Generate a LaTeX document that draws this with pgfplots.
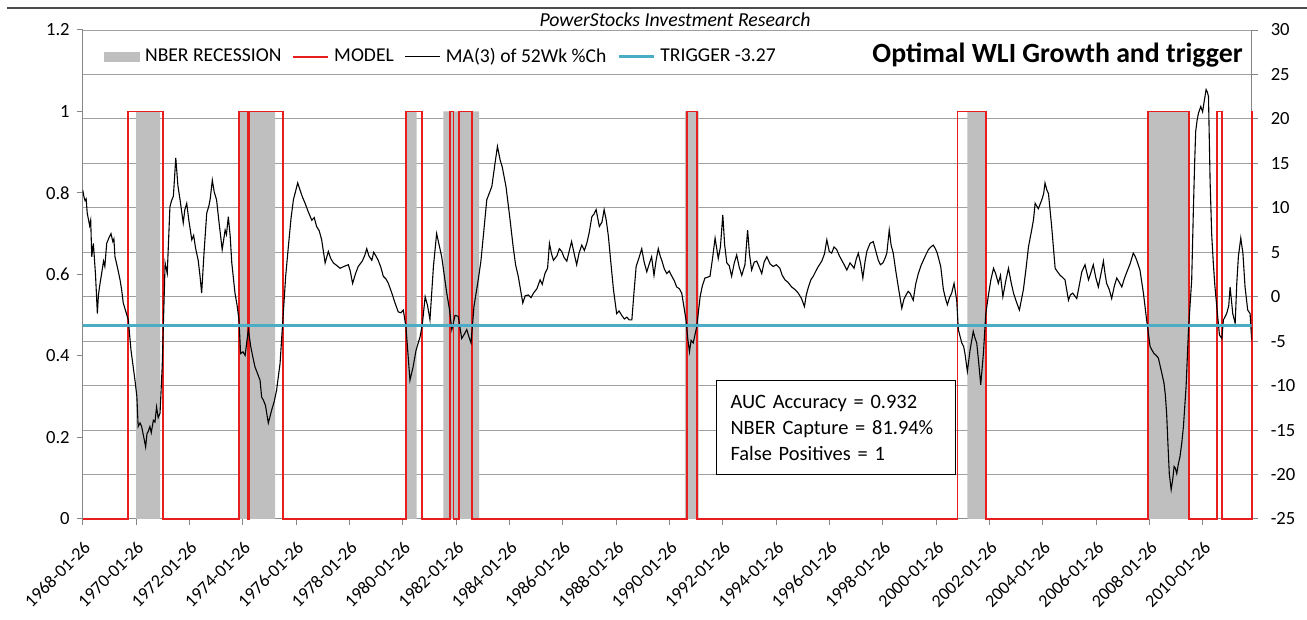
\documentclass[border=0pt]{standalone}
\usepackage{fontspec}
\setmainfont{Carlito}
\usepackage{pgfplots}
\pgfplotsset{compat=1.18}
\definecolor{recgray}{RGB}{191,191,191}
\definecolor{modelred}{RGB}{232,30,30}
\definecolor{trigblue}{RGB}{75,172,198}
\definecolor{gridgray}{RGB}{160,160,160}
\definecolor{axgray}{RGB}{134,134,134}

\pgfplotsset{
  base/.style={
    set layers, scale only axis,
    width=584.5pt, height=244.5pt,
    xmin=1968.07, xmax=2011.9,
    tick align=outside, major tick length=3pt,
    axis line style={-, axgray, line width=0.5pt},
    tick style={axgray, line width=0.5pt},
    tick label style={font=\fontsize{9.3}{11}\selectfont},
  }
}

\begin{document}
\begin{tikzpicture}
% left axis: recessions and model (0/1)
\begin{axis}[base,
  ymin=0, ymax=1.2, clip=false,
  axis x line*=bottom, axis y line*=left,
  ytick={0,0.2,0.4,0.6,0.8,1,1.2},
  yticklabels={0,0.2,0.4,0.6,0.8,1,1.2},
  xtick={1968.07,1970.07,1972.07,1974.07,1976.07,1978.07,1980.07,1982.07,1984.07,1986.07,1988.07,1990.07,1992.07,1994.07,1996.07,1998.07,2000.07,2002.07,2004.07,2006.07,2008.07,2010.07},
  xticklabels={1968-01-26,1970-01-26,1972-01-26,1974-01-26,1976-01-26,1978-01-26,1980-01-26,1982-01-26,1984-01-26,1986-01-26,1988-01-26,1990-01-26,1992-01-26,1994-01-26,1996-01-26,1998-01-26,2000-01-26,2002-01-26,2004-01-26,2006-01-26,2008-01-26,2010-01-26},
  xticklabel style={xshift=3pt, yshift=-9pt, rotate=45, anchor=east, inner sep=1pt, font=\fontsize{9}{11}\selectfont},
]
\coordinate (SW) at (rel axis cs:0,0);
\addplot[fill=recgray, draw=none, const plot] coordinates {
  (1968.07,0) (1970.07,1) (1970.97,0) (1973.93,1) (1975.28,0)
  (1980.19,1) (1980.59,0) (1981.59,1) (1982.93,0) (1990.65,1) (1991.16,0)
  (2001.24,1) (2001.93,0) (2008.00,1) (2009.53,0) (2011.90,0)
} \closedcycle;
\addplot[draw=modelred, line width=0.9pt, const plot] coordinates {
  (1968.07,0) (1969.76,1) (1971.09,0) (1973.94,1) (1974.28,0) (1974.32,1)
  (1975.57,0) (1980.19,1) (1980.80,0) (1981.85,1) (1981.97,0) (1982.19,1)
  (1982.68,0) (1990.72,1) (1991.09,0) (2000.87,1) (2001.93,0) (2008.00,1)
  (2009.56,0) (2010.59,1) (2010.80,0) (2011.90,1)
};
\end{axis}

% right axis: WLI growth and trigger
\begin{axis}[base,
  ymin=-25, ymax=30,
  axis y line*=right, axis x line=none,
  ytick={-25,-20,-15,-10,-5,0,5,10,15,20,25,30},
  yticklabels={-25,-20,-15,-10,-5,0,5,10,15,20,25,30},
  yticklabel style={xshift=3pt},
  ymajorgrids, grid style={gridgray, line width=0.5pt},
  legend columns=4,
  legend image code/.code={\draw[#1] (0pt,0pt) -- (17.5pt,0pt);},
  legend style={at={(0.013,0.945)}, anchor=west, draw=none, fill=none,
    font=\fontsize{9.8}{11}\selectfont,
    nodes={inner xsep=2.5pt},
    /tikz/every even column/.append style={column sep=3pt}},
]
\addlegendimage{legend image code/.code={\fill[recgray] (0pt,-2.25pt) rectangle (17.5pt,2.25pt);}}
\addlegendentry{NBER RECESSION}
\addlegendimage{draw=modelred, line width=0.9pt}
\addlegendentry{MODEL}
\addplot[black, line width=0.55pt] coordinates {
(1968.07,12.0)(1968.12,11.2)(1968.16,10.8)(1968.20,11.0)(1968.24,9.4)(1968.33,8.0)(1968.37,8.6)(1968.41,4.5)(1968.47,6.0)(1968.55,2.5)(1968.62,-1.9)(1968.66,0.2)(1968.72,1.5)(1968.78,2.6)(1968.85,4.0)(1968.90,3.4)(1968.97,6.0)(1969.05,6.6)(1969.13,7.1)(1969.2,6.2)(1969.24,6.5)(1969.28,4.5)(1969.38,3.2)(1969.47,1.9)(1969.53,0.8)(1969.59,-0.7)(1969.70,-1.8)(1969.78,-2.6)(1969.88,-6.0)(1970.03,-9.4)(1970.10,-11.2)(1970.15,-14.6)(1970.22,-14.2)(1970.28,-14.6)(1970.36,-15.8)(1970.43,-16.9)(1970.48,-15.4)(1970.52,-15.2)(1970.59,-14.6)(1970.64,-15.3)(1970.72,-13.9)(1970.78,-14.1)(1970.84,-12.4)(1970.90,-13.6)(1970.97,-13.1)(1971.05,-7.9)(1971.16,3.8)(1971.24,2.6)(1971.34,10.1)(1971.40,10.8)(1971.47,11.3)(1971.56,15.6)(1971.64,12.5)(1971.72,10.9)(1971.78,9.6)(1971.84,8.3)(1971.90,9.8)(1971.97,10.5)(1972.05,8.6)(1972.16,6.4)(1972.23,6.9)(1972.3,5.5)(1972.40,4.1)(1972.47,2.3)(1972.53,0.4)(1972.62,5.0)(1972.72,9.4)(1972.80,10.2)(1972.85,11.0)(1972.93,13.1)(1973.00,11.8)(1973.09,10.9)(1973.18,8.4)(1973.30,5.3)(1973.41,7.5)(1973.46,7.0)(1973.53,9.0)(1973.60,6.8)(1973.66,3.8)(1973.78,0.4)(1973.86,-1.0)(1973.93,-2.6)(1973.99,-6.4)(1974.08,-6.2)(1974.16,-6.6)(1974.28,-3.7)(1974.37,-5.6)(1974.45,-6.8)(1974.53,-7.9)(1974.62,-8.6)(1974.72,-9.4)(1974.78,-11.3)(1974.84,-11.6)(1974.92,-12.2)(1975.03,-14.2)(1975.16,-12.7)(1975.25,-11.8)(1975.34,-10.5)(1975.47,-7.5)(1975.59,-1.9)(1975.68,2.3)(1975.78,5.6)(1975.88,8.8)(1975.97,10.9)(1976.13,12.8)(1976.22,12.0)(1976.31,11.2)(1976.41,10.5)(1976.52,9.6)(1976.66,8.6)(1976.75,8.9)(1976.84,7.9)(1976.94,7.4)(1977.03,6.4)(1977.16,3.8)(1977.28,5.1)(1977.37,4.3)(1977.47,3.8)(1977.60,3.5)(1977.72,3.2)(1977.86,3.4)(1978.03,3.6)(1978.10,2.9)(1978.19,1.5)(1978.30,2.6)(1978.40,3.4)(1978.55,4.0)(1978.64,4.6)(1978.72,5.4)(1978.80,4.6)(1978.91,4.1)(1978.98,5.0)(1979.06,4.6)(1979.15,4.1)(1979.25,3.3)(1979.34,2.3)(1979.44,2.0)(1979.53,1.5)(1979.65,0.5)(1979.78,-0.7)(1979.90,-1.7)(1980.00,-1.8)(1980.09,-1.5)(1980.19,-3.4)(1980.34,-9.4)(1980.45,-8.0)(1980.57,-6.0)(1980.72,-4.5)(1980.80,-3.2)(1980.91,0.0)(1981.00,-1.0)(1981.09,-2.6)(1981.22,3.4)(1981.34,7.1)(1981.45,5.6)(1981.53,4.5)(1981.72,0.4)(1981.82,-1.4)(1981.91,-3.7)(1982.03,-2.1)(1982.15,-2.2)(1982.28,-4.7)(1982.38,-4.2)(1982.47,-3.7)(1982.55,-4.5)(1982.63,-5.2)(1982.74,-1.1)(1982.90,1.9)(1983.00,4.0)(1983.09,6.8)(1983.22,10.9)(1983.41,12.4)(1983.52,14.8)(1983.62,16.9)(1983.72,15.4)(1983.80,14.6)(1983.94,12.4)(1984.08,9.0)(1984.21,5.6)(1984.30,3.6)(1984.40,2.3)(1984.57,-0.7)(1984.66,0.1)(1984.78,0.2)(1984.88,-0.1)(1984.97,0.4)(1985.10,0.9)(1985.22,1.9)(1985.30,1.4)(1985.40,2.6)(1985.50,3.2)(1985.57,6.0)(1985.65,4.8)(1985.72,4.1)(1985.85,4.6)(1985.94,5.4)(1986.03,5.1)(1986.12,4.4)(1986.22,4.0)(1986.30,5.0)(1986.40,6.2)(1986.50,4.8)(1986.59,3.6)(1986.68,4.9)(1986.78,5.8)(1986.88,5.2)(1986.97,6.0)(1987.06,7.2)(1987.16,9.0)(1987.24,9.3)(1987.32,9.8)(1987.44,7.9)(1987.54,8.4)(1987.62,9.8)(1987.70,8.6)(1987.78,6.8)(1987.88,3.6)(1987.97,0.8)(1988.09,-1.9)(1988.18,-1.6)(1988.28,-2.1)(1988.38,-2.5)(1988.47,-2.3)(1988.56,-2.6)(1988.66,-2.6)(1988.74,0.5)(1988.82,3.4)(1988.92,4.3)(1989.03,5.4)(1989.12,3.9)(1989.22,2.8)(1989.30,3.6)(1989.40,4.5)(1989.49,2.4)(1989.57,4.1)(1989.65,5.4)(1989.72,4.6)(1989.78,4.1)(1989.88,3.1)(1989.97,2.6)(1990.06,2.9)(1990.16,2.3)(1990.25,1.8)(1990.34,1.1)(1990.44,0.9)(1990.53,0.4)(1990.69,-2.6)(1990.76,-4.8)(1990.82,-6.2)(1990.88,-4.9)(1990.96,-5.2)(1991.09,-3.4)(1991.22,0.0)(1991.30,1.2)(1991.40,2.1)(1991.50,2.2)(1991.59,2.3)(1991.68,4.2)(1991.78,6.6)(1991.90,4.3)(1991.98,5.6)(1992.07,9.2)(1992.14,5.8)(1992.22,3.8)(1992.31,3.5)(1992.40,2.3)(1992.50,3.8)(1992.59,4.7)(1992.68,3.4)(1992.78,2.4)(1992.90,3.6)(1993.00,7.5)(1993.07,4.8)(1993.15,3.0)(1993.25,3.9)(1993.34,4.0)(1993.44,3.3)(1993.53,2.6)(1993.62,3.9)(1993.72,4.5)(1993.84,3.7)(1993.96,3.4)(1994.08,3.6)(1994.21,3.2)(1994.30,2.4)(1994.40,1.9)(1994.52,1.6)(1994.65,1.1)(1994.78,0.8)(1994.90,0.4)(1995.02,-0.2)(1995.13,-1.1)(1995.20,0.2)(1995.28,1.1)(1995.37,1.9)(1995.46,2.3)(1995.56,2.9)(1995.65,3.4)(1995.78,4.0)(1995.88,4.8)(1995.97,6.4)(1996.06,5.1)(1996.15,4.9)(1996.24,5.6)(1996.34,5.3)(1996.44,4.6)(1996.53,4.1)(1996.62,3.6)(1996.72,3.0)(1996.84,3.8)(1996.92,3.5)(1996.99,3.2)(1997.07,4.2)(1997.15,4.9)(1997.24,3.7)(1997.32,2.1)(1997.40,3.9)(1997.47,5.1)(1997.59,6.0)(1997.71,6.2)(1997.80,5.2)(1997.90,4.1)(1997.98,3.6)(1998.07,3.8)(1998.15,4.3)(1998.22,4.9)(1998.31,7.5)(1998.38,5.8)(1998.46,4.9)(1998.55,3.0)(1998.65,1.1)(1998.78,-1.3)(1998.86,-0.3)(1998.94,0.2)(1999.02,0.6)(1999.09,0.4)(1999.21,-0.4)(1999.30,1.4)(1999.40,2.6)(1999.50,3.5)(1999.59,4.1)(1999.68,4.7)(1999.78,5.3)(1999.87,5.6)(1999.96,5.8)(2000.04,5.4)(2000.11,4.9)(2000.24,3.4)(2000.34,0.8)(2000.42,-0.2)(2000.49,-0.9)(2000.57,-0.1)(2000.65,0.4)(2000.74,1.5)(2000.84,-0.4)(2000.90,-3.7)(2001.03,-5.2)(2001.10,-5.6)(2001.15,-6.4)(2001.24,-8.4)(2001.34,-6.0)(2001.46,-3.9)(2001.52,-4.6)(2001.59,-5.2)(2001.67,-7.6)(2001.74,-9.9)(2001.84,-6.4)(2001.93,-1.9)(2002.03,0.2)(2002.12,1.9)(2002.22,3.2)(2002.30,2.6)(2002.40,1.5)(2002.48,2.4)(2002.57,0.0)(2002.68,1.8)(2002.78,3.2)(2002.88,1.6)(2002.97,0.4)(2003.08,-0.6)(2003.19,-1.5)(2003.34,0.8)(2003.44,3.2)(2003.53,5.6)(2003.65,7.5)(2003.72,8.7)(2003.78,10.5)(2003.90,9.9)(2004.03,10.9)(2004.10,11.6)(2004.15,12.8)(2004.22,12.0)(2004.28,11.6)(2004.40,7.9)(2004.53,3.2)(2004.62,2.8)(2004.72,2.4)(2004.80,2.2)(2004.90,1.9)(2005.03,-0.4)(2005.10,0.2)(2005.19,0.4)(2005.34,-0.2)(2005.43,1.2)(2005.53,2.8)(2005.65,3.6)(2005.78,1.9)(2005.86,2.6)(2005.96,3.6)(2006.05,2.2)(2006.15,1.1)(2006.25,2.6)(2006.34,4.0)(2006.40,2.6)(2006.46,1.5)(2006.56,0.8)(2006.65,-0.2)(2006.75,1.2)(2006.84,2.1)(2006.94,1.6)(2007.03,1.1)(2007.12,2.0)(2007.22,2.8)(2007.34,3.7)(2007.46,4.9)(2007.52,4.6)(2007.59,4.1)(2007.71,3.0)(2007.84,0.4)(2007.96,-2.6)(2008.09,-5.6)(2008.16,-6.0)(2008.24,-6.4)(2008.32,-6.6)(2008.40,-6.9)(2008.53,-8.6)(2008.61,-9.7)(2008.66,-11.0)(2008.71,-13.1)(2008.76,-16.6)(2008.81,-19.9)(2008.88,-21.7)(2008.94,-20.5)(2008.99,-19.1)(2009.04,-19.3)(2009.09,-19.9)(2009.15,-18.8)(2009.21,-18.0)(2009.28,-16.4)(2009.34,-14.6)(2009.44,-10.1)(2009.53,-3.7)(2009.65,1.9)(2009.71,9.4)(2009.76,15.0)(2009.80,18.6)(2009.85,19.8)(2009.90,20.6)(2009.99,21.4)(2010.06,20.8)(2010.12,22.0)(2010.19,23.3)(2010.24,23.0)(2010.28,22.5)(2010.34,13.0)(2010.40,7.0)(2010.46,3.8)(2010.52,1.2)(2010.59,-1.1)(2010.69,-4.3)(2010.78,-4.7)(2010.84,-2.6)(2010.96,-1.9)(2011.04,-1.0)(2011.09,1.1)(2011.14,-0.4)(2011.19,-1.9)(2011.28,-3.0)(2011.34,1.5)(2011.40,4.5)(2011.49,6.6)(2011.57,4.9)(2011.65,1.1)(2011.75,-1.5)(2011.84,-1.9)(2011.90,-4.9)
};
\addlegendentry{MA(3) of 52Wk \%Ch}
\addplot[trigblue, line width=1.5pt] coordinates {(1968.07,-3.27) (2011.90,-3.27)};
\addlegendentry{TRIGGER -3.27}
\end{axis}

% texts and frame, placed from the plot's lower-left corner (1px = 0.5pt)
\draw[gray!60!black, line width=0.6pt] ([shift={(-37.85pt,255.5pt)}]SW) -- ([shift={(612.15pt,255.5pt)}]SW);
\node[font=\itshape\fontsize{9.9}{11}\selectfont] at ([shift={(296.15pt,249.5pt)}]SW) {PowerStocks Investment Research};
\node[anchor=east, font=\bfseries\fontsize{13.9}{15}\selectfont, inner sep=0pt] at ([shift={(580.15pt,232pt)}]SW) {Optimal WLI Growth and trigger};
\node[anchor=north west, draw=black, line width=0.5pt, fill=white, inner xsep=7pt,
  text width=105.5pt, minimum height=47pt, align=left,
  font=\fontsize{10.2}{13}\selectfont] at ([shift={(316.65pt,69.5pt)}]SW)
  {AUC Accuracy = 0.932\\NBER Capture = 81.94\%\\False Positives = 1};

\pgfresetboundingbox
\path[use as bounding box] ([shift={(-41.35pt,-50.5pt)}]SW) rectangle ([shift={(612.15pt,259.5pt)}]SW);
\end{tikzpicture}
\end{document}
